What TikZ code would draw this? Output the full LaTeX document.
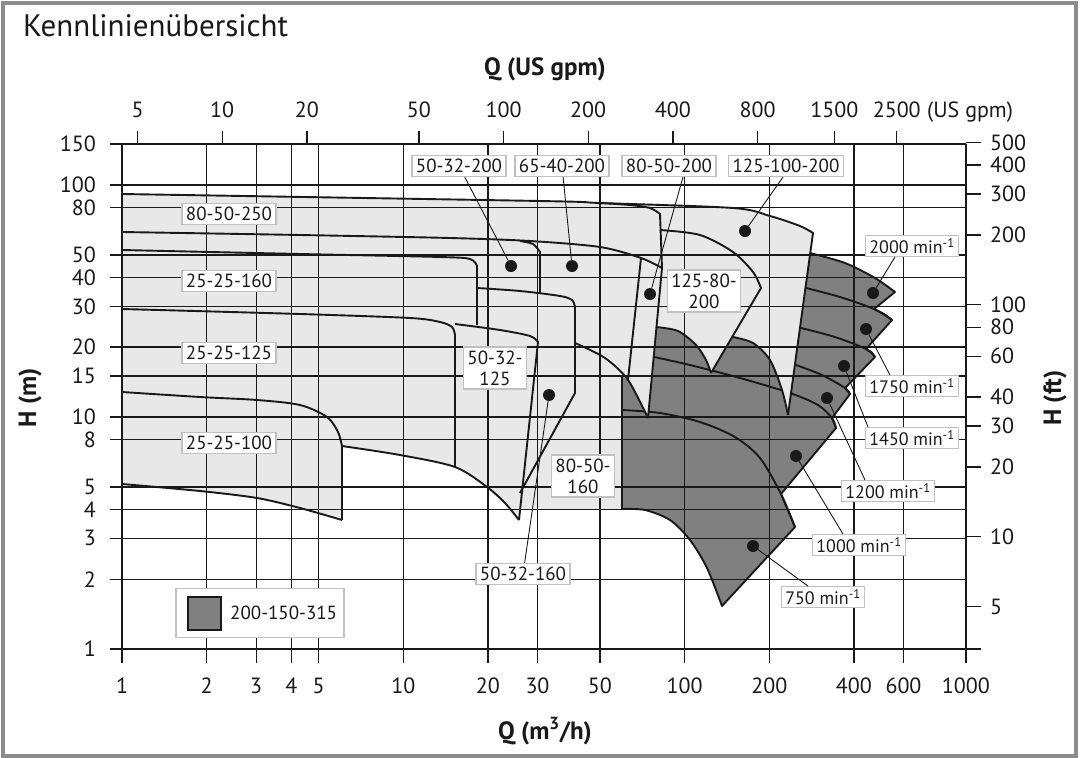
\documentclass[tikz,border=0pt]{standalone}
\usepackage{fontspec}
\setmainfont{PT Sans}
\definecolor{lightfill}{RGB}{232,232,232}
\definecolor{darkfill}{RGB}{128,128,128}
\definecolor{boxborder}{RGB}{192,192,192}
\definecolor{framegray}{RGB}{140,140,140}
\definecolor{ink}{RGB}{25,25,25}
\begin{document}
\begin{tikzpicture}[x=1pt,y=-1pt,
  gridln/.style={draw=ink, line width=1.35pt},
  outl/.style={draw=ink, line width=1.9pt, line join=round},
  leader/.style={draw=ink, line width=0.9pt},
  lbl/.style={draw=boxborder, line width=1.4pt, fill=white, text=ink,
     font=\fontsize{19}{21}\selectfont, inner xsep=4pt, inner ysep=3.5pt},
  spd/.style={lbl, font=\fontsize{18}{20}\selectfont, inner ysep=2.5pt},
  dotn/.style={circle, fill=ink, inner sep=0pt, minimum size=12pt},
  axlab/.style={font=\fontsize{22}{24}\selectfont, text=ink, inner sep=0pt},
  axtitle/.style={font=\bfseries\fontsize{25}{27}\selectfont, text=ink, inner sep=0pt}
]
\useasboundingbox (0,0) rectangle (1080,758);
\fill[white] (0,0) rectangle (1080,758);
\draw[framegray, line width=4pt] (2.5,3) rectangle (1075.5,755.5);

% ---------- dark region (200-150-315) ----------
\fill[darkfill] (622,509) -- (622,372) -- (640,330) -- (700,305) -- (795,245) -- (810,253)
  -- plot[smooth] coordinates {(810,253) (845,263) (875,278) (895,292)}
  -- (874,309) -- plot[smooth] coordinates {(874,309) (884,314) (892,320)}
  -- (866,349) -- plot[smooth] coordinates {(866,349) (871,352) (875,357)}
  -- (845,388) -- (850,394) -- (832,418) -- (836,428) -- (781,494) -- (795,527) -- (722,606)
  -- plot[smooth] coordinates {(722,606) (707,568) (690,540) (670,520) (645,510) (622,509)} -- cycle;
% speed curves inside the dark region
\draw[outl] plot[smooth] coordinates {(806,288) (840,297) (874,309) (892,320)};
\draw[outl] plot[smooth] coordinates {(801,328) (835,337) (866,349) (875,357)};
\draw[outl] plot[smooth] coordinates {(796,365) (822,375) (845,388) (850,394)};
\draw[outl] plot[smooth] coordinates {(654,357) (690,365) (740,378) (790,393) (818,405) (832,418) (836,428)};
\draw[outl] plot[smooth] coordinates {(622,410) (660,413) (700,422) (735,437) (760,458) (781,494) (795,527)};

% ---------- light region (union) ----------
\fill[lightfill] (122,194)
  -- plot[smooth] coordinates {(122,194) (540,201) (600,203) (733,208) (770,216) (800,226) (813,233)}
  -- (788,415)
  -- plot[smooth] coordinates {(788,415) (782,390) (770,360) (753,343) (733,337)}
  -- (711,373)
  -- plot[smooth] coordinates {(711,373) (706,360) (696,345) (678,331) (656,327)}
  -- (648,418)
  -- plot[smooth] coordinates {(648,418) (638,397) (628,381) (622,376)}
  -- (622,509) -- (520.5,509) -- (519,520)
  -- plot[smooth] coordinates {(519,520) (505,503) (487,487) (455,467) (400,455) (342,446)}
  -- (342,520)
  -- plot[smooth] coordinates {(342,520) (300,508) (257,498) (200,491) (122,484)} -- cycle;

% ---------- grid ----------
\foreach \h in {150,100,80,50,40,30,20,15,10,8,5,4,3,2}
  \draw[gridln] (110,{649-232*log10(\h)}) -- (966,{649-232*log10(\h)});
\draw[gridln] (110,649) -- (981,649);
\foreach \q in {1,2,3,4,5,10,20,30,50,100,200,400,600,1000}
  \draw[gridln] ({122+281.3*log10(\q)},144) -- ({122+281.3*log10(\q)},663);
\foreach \f in {500,400,300,200,100,80,60,40,30,20,10,5}
  \draw[gridln] (966,{649-232*log10(\f*0.3048)}) -- (981,{649-232*log10(\f*0.3048)});
\foreach \g in {5,10,20,50,100,200,400,800,1500,2500}
  \draw[gridln] ({122+281.3*log10(\g/4.403)},131) -- ({122+281.3*log10(\g/4.403)},144);

% ---------- outlines of the light pumps ----------
\draw[outl] plot[smooth] coordinates {(122,194) (540,201) (600,203) (733,208) (770,216) (800,226) (813,233)} -- (788,415);
\draw[outl] plot[smooth] coordinates {(600,203) (630,205) (650,208) (660,214)} -- (662,268) -- (648,418);
\draw[outl] plot[smooth] coordinates {(733,337) (753,343) (770,360) (782,390) (788,415)};
\draw[outl] plot[smooth] coordinates {(660,230) (700,235) (733,252) (753,272) (761,288)} -- (711,373);
\draw[outl] plot[smooth] coordinates {(656,327) (678,331) (696,345) (706,360) (711,373)};
\draw[outl] plot[smooth] coordinates {(122,232) (300,235) (450,238) (530,241) (600,247) (641,258) (662,268)};
\draw[outl] plot[smooth] coordinates {(520,241) (533,244) (540,252)} -- (540,293);
\draw[outl] (641,258) -- (628,380);
\draw[outl] plot[smooth] coordinates {(575,343) (605,358) (628,380) (648,418)};
\draw[outl] plot[smooth] coordinates {(122,250) (300,254) (440,257) (470,259) (477,266)} -- (477,325);
\draw[outl] plot[smooth] coordinates {(477,288) (520,291) (560,296) (572,300) (575,307)} -- (575,393) -- (520,493);
\draw[outl] plot[smooth] coordinates {(122,309) (300,314) (410,318) (440,322) (452,327) (455,335)} -- (455,467);
\draw[outl] plot[smooth] coordinates {(455,324) (500,330) (530,336) (538,342)} -- (519,520);
\draw[outl] plot[smooth] coordinates {(342,446) (400,455) (455,467) (487,487) (505,503) (519,520)};
\draw[outl] plot[smooth] coordinates {(122,392) (200,397) (257,400) (300,405) (327,417) (338,432) (342,446)} -- (342,520);
\draw[outl] plot[smooth] coordinates {(122,484) (200,491) (257,498) (300,508) (342,520)};

% ---------- outline of the dark region ----------
\draw[outl] (810,253)
  -- plot[smooth] coordinates {(810,253) (845,263) (875,278) (895,292)}
  -- (874,309) -- plot[smooth] coordinates {(874,309) (884,314) (892,320)}
  -- (866,349) -- plot[smooth] coordinates {(866,349) (871,352) (875,357)}
  -- (845,388) -- (850,394) -- (832,418) -- (836,428) -- (781,494) -- (795,527) -- (722,606)
  -- plot[smooth] coordinates {(722,606) (707,568) (690,540) (670,520) (645,510) (622,509)}
  -- (622,376);

% ---------- axes texts ----------
\node[anchor=west, font=\fontsize{31}{33}\selectfont, text=ink, inner sep=0pt] (title) at (23,26) {Kennlinienübersicht};
\node[axtitle, anchor=base] (qgpm) at (545,75) {Q (US gpm)};
\node[axtitle, anchor=base] (qm3h) at (545,739) {Q (m\textsuperscript{3}/h)};
\node[axtitle, rotate=90] (hm) at (30,398) {H (m)};
\node[axtitle, rotate=90] (hft) at (1055,398) {H (ft)};
\foreach \h in {150,100,80,50,40,30,20,15,10,8,5,4,3,2,1}
  \node[axlab, anchor=east] at (96,{649-232*log10(\h)}) {\h};
\foreach \f in {500,400,300,200,100,80,60,40,30,20,10,5}
  \node[axlab, anchor=west] at (990,{649-232*log10(\f*0.3048)}) {\f};
\foreach \q in {1,2,3,4,5,10,20,30,50,100,200,400,600,1000}
  \node[axlab, anchor=base] at ({122+281.3*log10(\q)},693) {\q};
\foreach \g in {5,10,20,50,100,200,400,800,1500,2500}
  \node[axlab, anchor=base] at ({122+281.3*log10(\g/4.403)},117) {\g};
\node[axlab, anchor=base west] (gpmunit) at (927,117) {(US gpm)};

% ---------- dots ----------
\node[dotn] (d5032200) at (511,266) {};
\node[dotn] (d6540200) at (572,266) {};
\node[dotn] (d8050200) at (650,294) {};
\node[dotn] (d125100) at (745,231) {};
\node[dotn] (d5032160) at (549,395) {};
\node[dotn] (d2000) at (873,293) {};
\node[dotn] (d1750) at (866,329) {};
\node[dotn] (d1450) at (844,366) {};
\node[dotn] (d1200) at (827,398) {};
\node[dotn] (d1000) at (796,456) {};
\node[dotn] (d750) at (753,546) {};

% ---------- labels ----------
\node[lbl] (l80250) at (229,214) {80-50-250};
\node[lbl] (l2525160) at (229,281) {25-25-160};
\node[lbl] (l2525125) at (229,353) {25-25-125};
\node[lbl] (l2525100) at (229,443) {25-25-100};
\node[lbl] (l5032200) at (459,166) {50-32-200};
\node[lbl] (l6540200) at (562,166) {65-40-200};
\node[lbl] (l8050200) at (669,166) {80-50-200};
\node[lbl] (l125100200) at (786,166) {125-100-200};
\node[lbl, align=center] (l12580200) at (704,291) {125-80-\\200};
\node[lbl, align=center] (l5032125) at (495,368) {50-32-\\125};
\node[lbl, align=center] (l8050160) at (583,476) {80-50-\\160};
\node[lbl] (l5032160) at (523,574) {50-32-160};
\node[spd] (l2000) at (912,246) {2000 min\textsuperscript{-1}};
\node[spd] (l1750) at (912,386) {1750 min\textsuperscript{-1}};
\node[spd] (l1450) at (912,438) {1450 min\textsuperscript{-1}};
\node[spd] (l1200) at (888,491) {1200 min\textsuperscript{-1}};
\node[spd] (l1000) at (859,545) {1000 min\textsuperscript{-1}};
\node[spd] (l750) at (823,597) {750 min\textsuperscript{-1}};

% ---------- leaders ----------
\draw[leader] (l5032200) -- (d5032200);
\draw[leader] (l6540200) -- (d6540200);
\draw[leader] ([xshift=14pt]l8050200.south) -- (d8050200);
\draw[leader] ([xshift=-3pt]l125100200.south) -- (d125100);
\draw[leader] (l5032160) -- (d5032160);
\draw[leader] ([xshift=-17pt]l2000.south) -- (d2000);
\draw[leader] ([xshift=-22pt]l1750.north) -- (d1750);
\draw[leader] ([xshift=-44pt]l1450.north) -- (d1450);
\draw[leader] ([xshift=-23pt]l1200.north) -- (d1200);
\draw[leader] ([xshift=-16pt]l1000.north) -- (d1000);
\draw[leader] (l750) -- (d750);

% ---------- legend ----------
\node[draw=boxborder, line width=1.4pt, fill=white, minimum width=168pt, minimum height=49pt, inner sep=0pt] (legbox) at (260,613) {};
\node[draw=ink, line width=2pt, fill=darkfill, minimum size=33pt, inner sep=0pt] (legsq) at (204.5,613.5) {};
\node[anchor=west, font=\fontsize{19}{21}\selectfont, text=ink, inner sep=0pt] (legtxt) at (230,613) {200-150-315};
\end{tikzpicture}
\end{document}
